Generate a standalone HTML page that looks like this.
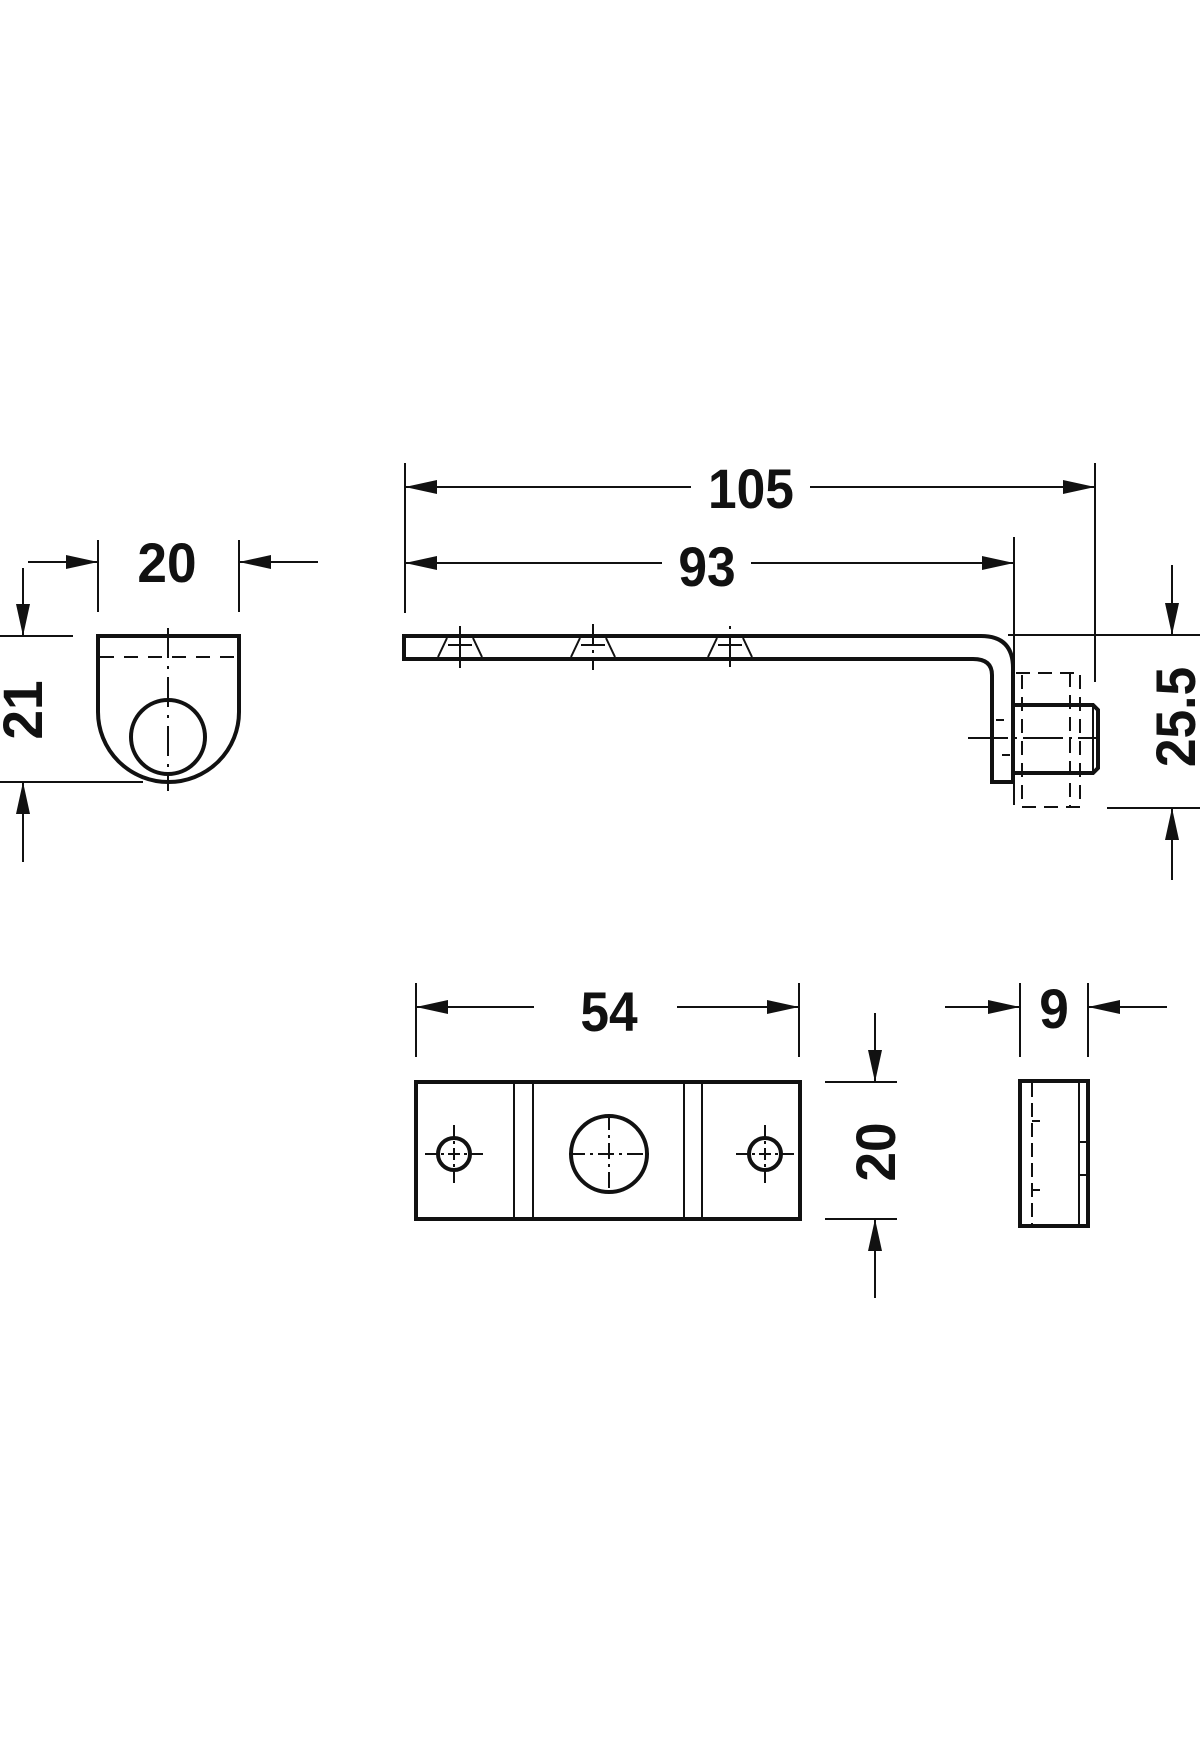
<!DOCTYPE html>
<html><head><meta charset="utf-8"><style>
html,body{margin:0;padding:0;background:#fff}
svg{display:block}
text{font-family:"Liberation Sans",sans-serif;font-weight:bold;font-size:56px;fill:#111}
</style></head><body>
<svg width="1200" height="1760" viewBox="0 0 1200 1760" xmlns="http://www.w3.org/2000/svg">
<defs>
<marker id="a" viewBox="0 0 32 14" refX="32" refY="7" markerWidth="32" markerHeight="14" markerUnits="userSpaceOnUse" orient="auto"><path d="M0,0 L32,7 L0,14 Z" fill="#111"/></marker>
</defs>
<g stroke="#111" fill="none" stroke-width="2">
<!-- LEFT VIEW -->
<line x1="98" y1="540" x2="98" y2="612"/><line x1="239" y1="540" x2="239" y2="612"/>
<line x1="28" y1="562" x2="98" y2="562" marker-end="url(#a)"/>
<line x1="318" y1="562" x2="239" y2="562" marker-end="url(#a)"/>
<line x1="0" y1="636" x2="73" y2="636"/><line x1="0" y1="782" x2="143" y2="782"/>
<line x1="23" y1="568" x2="23" y2="636" marker-end="url(#a)"/>
<line x1="23" y1="862" x2="23" y2="782" marker-end="url(#a)"/>
<path d="M98,636 H239 V712 A70.5,70 0 0 1 98,712 Z" stroke-width="4"/>
<line x1="100" y1="657" x2="237" y2="657" stroke-dasharray="14,10"/>
<circle cx="168" cy="737" r="37" stroke-width="4"/>
<line x1="168" y1="628" x2="168" y2="791" stroke-dasharray="30,8,3,8"/>
<!-- SIDE VIEW -->
<line x1="405" y1="463" x2="405" y2="613"/>
<line x1="1095" y1="463" x2="1095" y2="682"/>
<line x1="1014" y1="537" x2="1014" y2="805"/>
<line x1="691" y1="487" x2="405" y2="487" marker-end="url(#a)"/>
<line x1="810" y1="487" x2="1095" y2="487" marker-end="url(#a)"/>
<line x1="662" y1="563" x2="405" y2="563" marker-end="url(#a)"/>
<line x1="751" y1="563" x2="1014" y2="563" marker-end="url(#a)"/>
<line x1="1008" y1="635" x2="1200" y2="635"/>
<line x1="1107" y1="808" x2="1200" y2="808"/>
<line x1="1172" y1="565" x2="1172" y2="635" marker-end="url(#a)"/>
<line x1="1172" y1="880" x2="1172" y2="808" marker-end="url(#a)"/>
<path d="M404,636 H981 Q1013,636 1013,668 V782 H992 V675 Q992,659 973,659 H404 Z" stroke-width="4"/>
<g stroke-width="2">
<path d="M447,638 L438,657 M473,638 L482,657 M448,645 H472"/>
<line x1="460" y1="626" x2="460" y2="668"/>
<path d="M580,638 L571,657 M606,638 L615,657 M581,645 H605"/>
<line x1="593" y1="624" x2="593" y2="670" stroke-dasharray="20,6,3,6"/>
<path d="M717,638 L708,657 M743,638 L752,657 M718,645 H742"/>
<line x1="730" y1="626" x2="730" y2="668" stroke-dasharray="3,8,30"/>
</g>
<path d="M1014,705 H1093 L1098,710 V768 L1093,773 H1014" stroke-width="4"/>
<line x1="1093" y1="705" x2="1093" y2="773"/>
<path d="M1016,673 H1080 V807 H1022 V673" stroke-dasharray="14,8"/>
<line x1="1070" y1="673" x2="1070" y2="807" stroke-dasharray="14,8"/>
<line x1="968" y1="738" x2="1097" y2="738" stroke-dasharray="40,6,3,6"/>
<line x1="996" y1="720" x2="1004" y2="720"/><line x1="1002" y1="755" x2="1010" y2="755"/>
<!-- BOTTOM FRONT -->
<line x1="416" y1="983" x2="416" y2="1057"/><line x1="799" y1="983" x2="799" y2="1057"/>
<line x1="534" y1="1007" x2="416" y2="1007" marker-end="url(#a)"/>
<line x1="677" y1="1007" x2="799" y2="1007" marker-end="url(#a)"/>
<rect x="416" y="1082" width="384" height="137" stroke-width="4"/>
<line x1="514" y1="1082" x2="514" y2="1219"/><line x1="533" y1="1082" x2="533" y2="1219"/>
<line x1="684" y1="1082" x2="684" y2="1219"/><line x1="702" y1="1082" x2="702" y2="1219"/>
<circle cx="454" cy="1154" r="16" stroke-width="4"/>
<circle cx="765" cy="1154" r="16" stroke-width="4"/>
<circle cx="609" cy="1154" r="38" stroke-width="4"/>
<path d="M425,1154 H483 M454,1125 V1183 M736,1154 H794 M765,1125 V1183" stroke-dasharray="12,4,3,4"/>
<path d="M569,1154 H649 M609,1114 V1194" stroke-dasharray="16,5,3,5"/>
<line x1="825" y1="1082" x2="897" y2="1082"/><line x1="825" y1="1219" x2="897" y2="1219"/>
<line x1="875" y1="1013" x2="875" y2="1082" marker-end="url(#a)"/>
<line x1="875" y1="1298" x2="875" y2="1219" marker-end="url(#a)"/>
<!-- SIDE SMALL -->
<line x1="1020" y1="983" x2="1020" y2="1057"/><line x1="1088" y1="983" x2="1088" y2="1057"/>
<line x1="945" y1="1007" x2="1020" y2="1007" marker-end="url(#a)"/>
<line x1="1167" y1="1007" x2="1088" y2="1007" marker-end="url(#a)"/>
<rect x="1020" y="1081" width="68" height="145" stroke-width="4"/>
<line x1="1032" y1="1083" x2="1032" y2="1224" stroke-dasharray="14,6"/>
<line x1="1079" y1="1081" x2="1079" y2="1226"/>
<path d="M1032,1121 H1040 M1032,1190 H1040 M1079,1142 H1088 M1079,1175 H1088"/>
</g>
<text x="167" y="582" text-anchor="middle" transform="translate(167 0) scale(0.95 1) translate(-167 0)">20</text>
<text transform="translate(42 710) rotate(-90) scale(0.95 1)" text-anchor="middle">21</text>
<text x="751" y="508" text-anchor="middle" transform="translate(751 0) scale(0.92 1) translate(-751 0)">105</text>
<text x="707" y="586" text-anchor="middle" transform="translate(707 0) scale(0.92 1) translate(-707 0)">93</text>
<text transform="translate(1195 717) rotate(-90) scale(0.92 1)" text-anchor="middle">25.5</text>
<text x="609" y="1031" text-anchor="middle" transform="translate(609 0) scale(0.92 1) translate(-609 0)">54</text>
<text transform="translate(895 1152) rotate(-90) scale(0.95 1)" text-anchor="middle">20</text>
<text x="1054" y="1028" text-anchor="middle" transform="translate(1054 0) scale(0.95 1) translate(-1054 0)">9</text>
</svg>
</body></html>
